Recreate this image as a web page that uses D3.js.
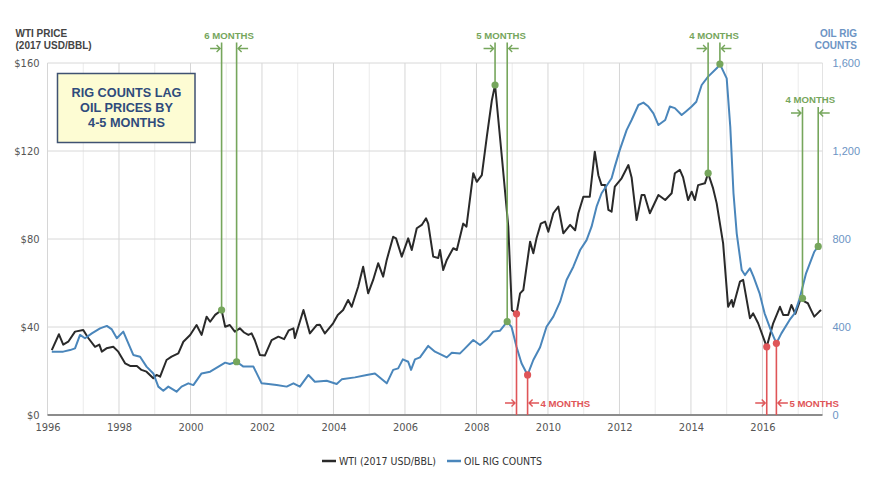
<!DOCTYPE html>
<html><head><meta charset="utf-8">
<script src="https://cdn.jsdelivr.net/npm/d3@7"></script>
<style>body{margin:0;background:#fff}svg{display:block}</style>
</head><body>
<svg id="chart" width="873" height="478"></svg>
<script>
// ---------- DATA ----------
const gridYears = d3.range(1996, 2018);
const xTickYears = [1996,1998,2000,2002,2004,2006,2008,2010,2012,2014,2016];
const priceTicks = [0,40,80,120,160];
const rigTicks = [0,400,800,1200,1600];

const wtiDates = [1996.12,1996.32,1996.44,1996.58,1996.77,1997.00,1997.14,1997.33,1997.45,1997.52,1997.65,1997.84,1997.98,
1998.17,1998.31,1998.50,1998.63,1998.77,1998.96,1999.05,1999.15,1999.33,1999.47,1999.66,1999.80,1999.99,
2000.17,2000.31,2000.45,2000.55,2000.69,2000.87,2000.97,2001.10,2001.24,2001.38,2001.50,2001.62,2001.71,2001.80,2001.94,
2002.08,2002.27,2002.46,2002.62,2002.75,2002.88,2002.92,2003.16,2003.34,2003.53,2003.62,2003.76,2003.99,
2004.12,2004.27,2004.41,2004.51,2004.69,2004.83,2004.97,2005.11,2005.25,2005.39,2005.49,2005.67,2005.75,2005.91,
2006.09,2006.19,2006.33,2006.47,2006.59,2006.65,2006.79,2006.93,2006.98,2007.07,2007.17,2007.35,2007.45,2007.63,2007.72,2007.91,
2008.01,2008.15,2008.29,2008.43,2008.52,2008.71,2008.89,2008.99,2009.12,2009.22,2009.31,2009.50,2009.59,2009.68,2009.80,2009.92,
2010.01,2010.15,2010.29,2010.43,2010.62,2010.76,2010.85,2010.99,2011.17,2011.31,2011.41,2011.50,2011.60,2011.69,2011.78,2011.87,
2012.06,2012.25,2012.34,2012.48,2012.62,2012.70,2012.85,2013.09,2013.28,2013.46,2013.55,2013.69,2013.78,2013.92,
2014.02,2014.11,2014.20,2014.39,2014.48,2014.62,2014.72,2014.90,2015.04,2015.14,2015.18,2015.37,2015.46,2015.65,2015.74,2015.88,
2016.12,2016.30,2016.49,2016.58,2016.72,2016.81,2016.92,2017.09,2017.18,2017.27,2017.36,2017.45,2017.59,2017.64];
const wtiValues = [29.5,36.7,32.0,33.3,37.9,38.6,35.0,31.0,32.0,28.8,30.3,31.0,28.8,
23.5,22.3,22.3,20.5,19.7,16.7,18.2,17.4,25.0,26.5,28.0,33.3,36.4,
40.9,36.4,44.7,42.4,45.5,47.7,40.1,40.9,37.9,39.4,37.5,36.4,37.1,34.0,27.3,
27.0,34.0,35.6,34.5,38.5,39.4,35.0,47.7,37.1,40.9,41.0,37.1,41.7,
45.5,47.7,52.3,49.2,58.3,67.4,55.3,61.4,69.0,62.9,70.5,81.0,80.3,72.0,
80.3,75.0,84.9,86.4,89.4,87.0,72.0,71.4,75.0,65.9,70.5,75.8,75.0,87.0,85.6,109.9,
106.0,109.0,126.5,143.0,150.0,117.4,85.6,47.7,46.0,55.3,56.8,78.8,73.5,80.3,87.0,87.9,
83.3,91.7,94.7,82.6,86.4,84.0,91.7,99.2,99.2,119.7,109.0,104.5,104.5,93.2,92.4,103.8,
107.6,113.6,108.0,88.6,100.0,100.0,91.7,100.0,97.7,100.8,109.9,111.4,108.0,97.7,
101.5,97.7,104.5,105.3,109.9,103.0,96.2,78.0,49.2,52.3,49.2,60.6,61.4,44.0,46.2,41.7,
31.0,41.7,49.2,45.5,45.5,50.0,46.0,53.8,51.5,50.8,47.7,44.7,47.0,47.7];

const rigDates = [1996.12,1996.44,1996.63,1996.77,1996.91,1997.05,1997.24,1997.47,1997.66,1997.80,1997.94,
1998.12,1998.40,1998.59,1998.77,1998.96,1999.10,1999.24,1999.38,1999.61,1999.75,1999.94,
2000.08,2000.31,2000.55,2000.97,2001.10,2001.29,2001.48,2001.76,2001.99,2002.18,2002.41,2002.69,2002.88,
2003.06,2003.30,2003.48,2003.81,2004.09,2004.23,2004.60,2004.93,2005.16,2005.49,2005.67,2005.81,2005.94,
2006.09,2006.17,2006.28,2006.42,2006.65,2006.84,2007.17,2007.31,2007.54,2007.68,2007.91,
2008.10,2008.29,2008.47,2008.66,2008.86,2008.98,2009.12,2009.26,2009.43,2009.59,2009.78,2009.96,
2010.15,2010.34,2010.52,2010.71,2010.90,2011.08,2011.22,2011.36,2011.50,2011.78,2011.87,
2012.01,2012.20,2012.34,2012.53,2012.67,2012.81,2012.95,2013.09,2013.28,2013.41,2013.55,2013.74,2013.86,
2014.02,2014.15,2014.30,2014.48,2014.72,2014.81,2015.00,2015.10,2015.19,2015.28,2015.42,2015.51,2015.65,2015.75,2015.92,
2016.06,2016.25,2016.39,2016.53,2016.76,2016.90,2017.03,2017.22,2017.45,2017.59];
const rigValues = [288,288,295,303,364,349,371,394,405,389,349,
379,273,265,220,189,129,110,129,106,129,144,
136,189,197,238,232,242,220,220,144,141,136,129,144,
129,182,151,156,141,162,171,182,189,144,205,212,253,
242,205,253,262,314,288,262,283,280,303,341,
318,344,379,383,424,401,310,235,182,250,308,401,
447,515,614,674,750,795,856,947,1008,1076,1129,
1205,1295,1341,1409,1420,1402,1371,1318,1341,1402,1395,1364,1380,
1402,1424,1500,1538,1576,1595,1530,1311,1008,826,659,636,667,629,553,
462,379,326,371,432,462,523,644,742,773];

// lead/lag annotations: from = oil price turning point, to = rig count response
const markerFrom  = [2000.87, 2008.52, 2014.48, 2017.12, 2009.12, 2016.12];
const markerTo    = [2001.29, 2008.86, 2014.81, 2017.56, 2009.43, 2016.39];
const markerLabel = ["6 MONTHS","5 MONTHS","4 MONTHS","4 MONTHS","4 MONTHS","5 MONTHS"];
const markerKind  = ["peak","peak","peak","peak","trough","trough"];

const boxLines = ["RIG COUNTS LAG","OIL PRICES BY","4-5 MONTHS"];
const legendItems = ["WTI (2017 USD/BBL)","OIL RIG COUNTS"];

// ---------- CHART ----------
const svg = d3.select("#chart");
const L = 47.5, R = 822.5, T = 63, B = 415;
const x = d3.scaleLinear().domain([1996, 2017.68]).range([L, R]);
const yP = d3.scaleLinear().domain([0,160]).range([B, T]);
const yR = d3.scaleLinear().domain([0,1600]).range([B, T]);

const cBlack = "#2a2a2a", cBlue = "#4a86bb", cGreen = "#76a65c", cRed = "#df5558";
const narrow = "'Liberation Sans Narrow','DejaVu Sans Condensed','Arial Narrow',sans-serif";
const bold = "'Liberation Sans',Arial,Helvetica,sans-serif";

// grid
const grid = svg.append("g");
grid.selectAll("line.v").data(gridYears).join("line")
  .attr("x1", d=>x(d)).attr("x2", d=>x(d)).attr("y1", T).attr("y2", B)
  .attr("stroke", d=> d%2===0 ? "#d6d6d6" : "#ebebeb").attr("stroke-width", 1);
grid.append("line").attr("x1", R).attr("x2", R).attr("y1", T).attr("y2", B).attr("stroke","#e3e3e3");
grid.selectAll("line.h").data(priceTicks.filter(d=>d>0)).join("line")
  .attr("x1", L).attr("x2", R).attr("y1", d=>yP(d)).attr("y2", d=>yP(d))
  .attr("stroke","#d8d8d8").attr("stroke-width",1);

// axes
const xAxis = svg.append("g").attr("transform",`translate(0,${B})`)
  .call(d3.axisBottom(x).tickValues(xTickYears).tickFormat(d3.format("d")).tickSize(0).tickPadding(8));
xAxis.select(".domain").remove();
xAxis.selectAll("text").attr("font-family", narrow).attr("font-size", 11).attr("fill","#555");

const yAxisL = svg.append("g").attr("transform",`translate(${L},0)`)
  .call(d3.axisLeft(yP).tickValues(priceTicks).tickFormat(d=>"$"+d).tickSize(0).tickPadding(8));
yAxisL.select(".domain").remove();
yAxisL.selectAll("text").attr("font-family", narrow).attr("font-size", 11).attr("fill","#555");

const yAxisR = svg.append("g").attr("transform",`translate(${R},0)`)
  .call(d3.axisRight(yR).tickValues(rigTicks).tickFormat(d3.format(",")).tickSize(0).tickPadding(10));
yAxisR.select(".domain").remove();
yAxisR.selectAll("text").attr("font-family", bold).attr("font-size", 11).attr("fill","#6c94c4");

svg.append("line").attr("x1",L).attr("x2",R).attr("y1",B).attr("y2",B)
  .attr("stroke","#8c8c8c").attr("stroke-width",2);

// axis titles
const tl = svg.append("text").attr("font-family",bold).attr("font-weight","bold").attr("font-size",10).attr("fill","#444");
tl.append("tspan").attr("x",15.5).attr("y",37).text("WTI PRICE");
tl.append("tspan").attr("x",15.5).attr("y",48.5).text("(2017 USD/BBL)");
const tr = svg.append("text").attr("font-family",bold).attr("font-weight","bold").attr("font-size",10)
  .attr("fill","#6c94c4").attr("text-anchor","end");
tr.append("tspan").attr("x",857).attr("y",37).text("OIL RIG");
tr.append("tspan").attr("x",857).attr("y",48.5).text("COUNTS");

// callout box
svg.append("rect").attr("x",57.5).attr("y",73.5).attr("width",137.5).attr("height",69)
  .attr("fill","#fdfcd3").attr("stroke","#3f5272").attr("stroke-width",1.5);
svg.append("text").attr("font-family",bold).attr("font-weight","bold").attr("font-size",12.7)
  .attr("fill","#2f4b7c").attr("text-anchor","middle")
  .selectAll("tspan").data(boxLines).join("tspan")
  .attr("x",126.5).attr("y",(d,i)=>96.5+i*15).text(d=>d);

// lines
const wti = wtiDates.map((d,i)=>[d, wtiValues[i]]);
const rig = rigDates.map((d,i)=>[d, rigValues[i]]);
svg.append("path").datum(wti).attr("fill","none").attr("stroke",cBlack).attr("stroke-width",2)
  .attr("stroke-linejoin","round")
  .attr("d", d3.line().x(d=>x(d[0])).y(d=>yP(d[1])));
svg.append("path").datum(rig).attr("fill","none").attr("stroke",cBlue).attr("stroke-width",2)
  .attr("stroke-linejoin","round")
  .attr("d", d3.line().x(d=>x(d[0])).y(d=>yR(d[1])));

// annotation helpers
function valueAt(dates, values, t){
  const i = d3.bisectLeft(dates, t);
  if (i<=0) return values[0];
  if (i>=dates.length) return values[values.length-1];
  const t0 = dates[i-1], t1 = dates[i];
  const f = (t - t0)/(t1 - t0);
  return values[i-1] + f*(values[i]-values[i-1]);
}
function arrow(g, tip, y, dir, color){
  const len = 10, h = 3.5;
  g.append("path")
    .attr("d",`M${tip-dir*len},${y}L${tip},${y}M${tip-dir*h},${y-h}L${tip},${y}L${tip-dir*h},${y+h}`)
    .attr("fill","none").attr("stroke",color).attr("stroke-width",1.4);
}

const ann = svg.append("g");
const dots = svg.append("g");
markerFrom.forEach((t0,i)=>{
  const t1 = markerTo[i];
  const x0 = x(t0), x1 = x(t1);
  const y0 = yP(valueAt(wtiDates, wtiValues, t0));
  const y1 = yR(valueAt(rigDates, rigValues, t1));
  const isPeak = markerKind[i]==="peak";
  const col = isPeak ? cGreen : cRed;
  if (isPeak){
    const low = t0 > 2016.5;
    const topY = low ? 107 : 42.5;
    const arrY = low ? 113 : 48.5;
    const labY = low ? 103 : 38.5;
    ann.append("line").attr("x1",x0).attr("x2",x0).attr("y1",topY).attr("y2",y0).attr("stroke",col).attr("stroke-width",1.6);
    ann.append("line").attr("x1",x1).attr("x2",x1).attr("y1",topY).attr("y2",y1).attr("stroke",col).attr("stroke-width",1.6);
    arrow(ann, x0-1.5, arrY, 1, col);
    arrow(ann, x1+1.5, arrY, -1, col);
    ann.append("text").attr("x",(x0+x1)/2).attr("y",labY).attr("text-anchor","middle")
      .attr("font-family",bold).attr("font-weight","bold").attr("font-size",9.6).attr("fill",col)
      .text(markerLabel[i]);
  } else {
    ann.append("line").attr("x1",x0).attr("x2",x0).attr("y1",y0).attr("y2",B).attr("stroke",col).attr("stroke-width",1.6);
    ann.append("line").attr("x1",x1).attr("x2",x1).attr("y1",y1).attr("y2",B).attr("stroke",col).attr("stroke-width",1.6);
    arrow(ann, x0-1.5, 403, 1, col);
    arrow(ann, x1+1.5, 403, -1, col);
    ann.append("text").attr("x",x1+13).attr("y",406.5).attr("text-anchor","start")
      .attr("font-family",bold).attr("font-weight","bold").attr("font-size",9.6).attr("fill",col)
      .text(markerLabel[i]);
  }
  dots.append("circle").attr("cx",x0).attr("cy",y0).attr("r",3.6).attr("fill",col);
  dots.append("circle").attr("cx",x1).attr("cy",y1).attr("r",3.6).attr("fill",col);
});

// legend
const leg = svg.append("g").attr("font-family",narrow).attr("font-size",10.5).attr("fill","#333");
const legX = [322, 447], legC = [cBlack, cBlue];
legendItems.forEach((t,i)=>{
  leg.append("line").attr("x1",legX[i]).attr("x2",legX[i]+14).attr("y1",461).attr("y2",461)
    .attr("stroke",legC[i]).attr("stroke-width",2.5);
  leg.append("text").attr("x",legX[i]+17).attr("y",464.5).text(t);
});
</script>
</body></html>
